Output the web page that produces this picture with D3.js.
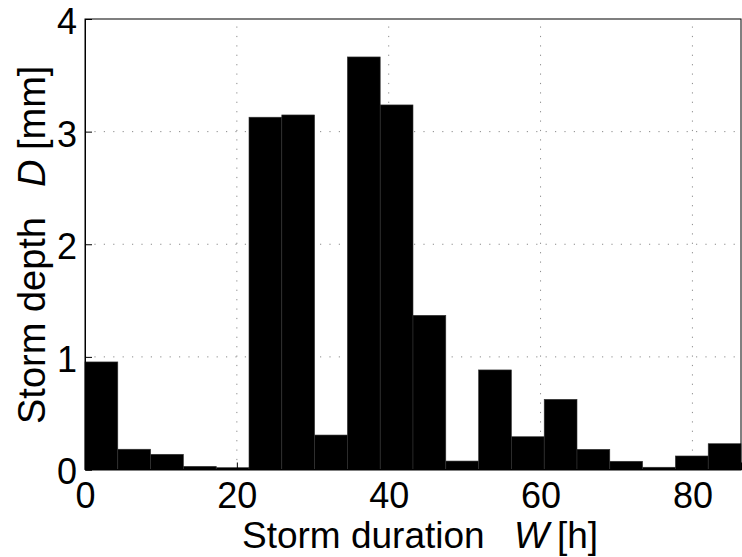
<!DOCTYPE html>
<html>
<head>
<meta charset="utf-8">
<script src="https://cdn.jsdelivr.net/npm/d3@7"></script>
<style>
  html, body { margin: 0; padding: 0; background: #fff; }
  svg { display: block; font-family: "Liberation Sans", Arial, Helvetica, sans-serif; }
</style>
</head>
<body>
<svg id="chart" width="742" height="557"></svg>
<script>
// Storm depth per storm-duration bin (20 equal bins)
const binWidth = 4.32;
const depths = [0.955, 0.18, 0.135, 0.028, 0.016, 3.128, 3.148, 0.306, 3.663, 3.237,
                1.369, 0.075, 0.884, 0.291, 0.623, 0.179, 0.073, 0.02, 0.12, 0.229];
const xTicks = [0, 20, 40, 60, 80];
const yTicks = [0, 1, 2, 3, 4];
const xMax = 86.4;
const yMax = 4;

const svg = d3.select("#chart");
const margin = { left: 85, right: 1, top: 19, bottom: 87.5 };
const W = 742, H = 557;
const x = d3.scaleLinear().domain([0, xMax]).range([margin.left, W - margin.right]);
const y = d3.scaleLinear().domain([0, yMax]).range([H - margin.bottom, margin.top]);

const bins = depths.map((d, i) => ({ x0: i * binWidth, x1: (i + 1) * binWidth, v: d }));

// dotted grid
const grid = svg.append("g").attr("stroke", "#8a8a8a").attr("stroke-width", 1)
  .attr("stroke-dasharray", "1.2,8.2");
grid.selectAll("line.gx").data(xTicks.filter(t => t > 0)).join("line")
  .attr("x1", d => x(d)).attr("x2", d => x(d))
  .attr("y1", y(0)).attr("y2", y(yMax));
grid.selectAll("line.gy").data(yTicks.filter(t => t > 0 && t < yMax)).join("line")
  .attr("y1", d => y(d)).attr("y2", d => y(d))
  .attr("x1", x(0)).attr("x2", x(xMax));

// bars
svg.append("g").selectAll("rect").data(bins).join("rect")
  .attr("x", d => x(d.x0))
  .attr("width", d => x(d.x1) - x(d.x0))
  .attr("y", d => y(d.v))
  .attr("height", d => y(0) - y(d.v))
  .attr("fill", "#000")
  .attr("stroke", "#333")
  .attr("stroke-width", 0.6);

// axis frame
svg.append("rect")
  .attr("x", x(0)).attr("y", y(yMax))
  .attr("width", x(xMax) - x(0)).attr("height", y(0) - y(yMax))
  .attr("fill", "none").attr("stroke", "#000").attr("stroke-width", 1);

// axes with inward ticks
const xAxis = d3.axisBottom(x).tickValues(xTicks).tickSize(-7).tickPadding(13).tickFormat(d3.format("d"));
const yAxis = d3.axisLeft(y).tickValues(yTicks).tickSize(-7).tickPadding(8).tickFormat(d3.format("d"));

const gx = svg.append("g").attr("transform", `translate(0,${y(0)})`).call(xAxis);
const gy = svg.append("g").attr("transform", `translate(${x(0)},0)`).call(yAxis);
[gx, gy].forEach(g => {
  g.select(".domain").attr("stroke", "#000");
  g.selectAll(".tick line").attr("stroke", "#000");
  g.selectAll(".tick text").attr("fill", "#000")
    .attr("font-size", 36).attr("font-family", "Liberation Sans, Arial, sans-serif");
});
gy.selectAll(".tick text").attr("dy", "0.4em");

// axis titles
const xl = svg.append("text")
  .attr("x", 242).attr("y", 548)
  .attr("font-size", 37).attr("fill", "#000");
xl.append("tspan").text("Storm duration");
xl.append("tspan").attr("x", 514).attr("font-style", "italic").text("W");
xl.append("tspan").attr("x", 557).text("[h]");

const yl = svg.append("text")
  .attr("transform", "translate(45,424) rotate(-90)")
  .attr("font-size", 38).attr("fill", "#000");
yl.append("tspan").attr("x", 0).text("Storm depth");
yl.append("tspan").attr("x", 237).attr("font-style", "italic").text("D");
yl.append("tspan").attr("x", 274).text("[mm]");
</script>
</body>
</html>
